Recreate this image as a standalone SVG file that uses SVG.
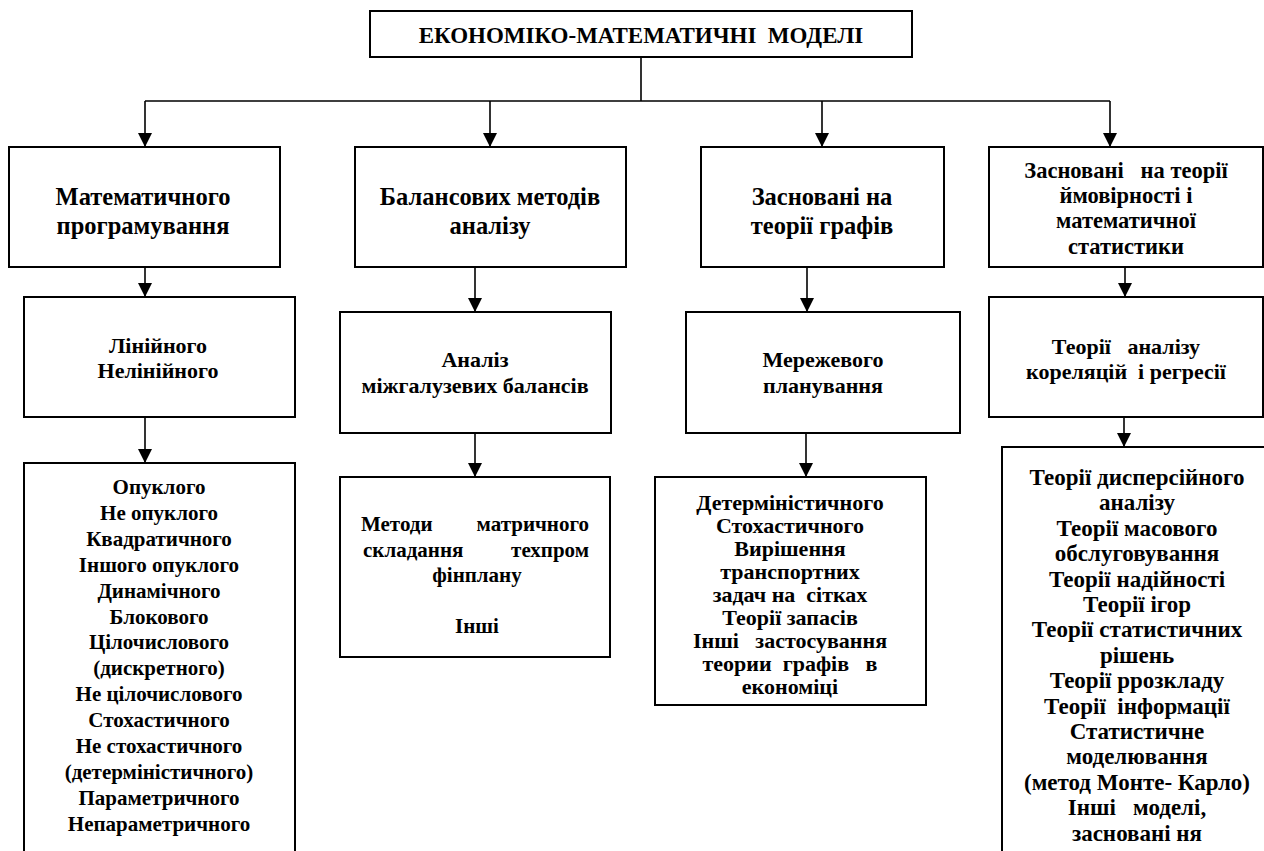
<svg xmlns="http://www.w3.org/2000/svg" width="1264" height="851" viewBox="0 0 1264 851" font-family="Liberation Serif, Tinos, 'Times New Roman', 'DejaVu Serif', serif" font-weight="bold">
<defs>
<marker id="arr" viewBox="0 0 14 14" refX="14" refY="7" markerWidth="14" markerHeight="14" orient="auto" markerUnits="userSpaceOnUse">
<path d="M0,0 L14,7 L0,14 z" fill="#000"/>
</marker>
<style>
.box{fill:#fff;stroke:#000;stroke-width:2}
.ln{fill:none;stroke:#000;stroke-width:1.6}
.ar{fill:none;stroke:#000;stroke-width:1.6;marker-end:url(#arr)}
text{fill:#000;text-anchor:middle;white-space:pre}
.t0{font-size:23px}
.t1{font-size:24.5px}
.t1s{font-size:22.5px}
.t2{font-size:22px}
.t3{font-size:21px}
.t3c{font-size:22px}
.t3d{font-size:23px}
</style>
</defs>
<rect width="1264" height="851" fill="#fff"/>
<g id="connectors">
<path class="ln" d="M641 57 V101 M145 101 H1110"/>
<path class="ar" d="M145 101 V147"/>
<path class="ar" d="M490 101 V147"/>
<path class="ar" d="M822 101 V147"/>
<path class="ar" d="M1110 101 V147"/>
<path class="ar" d="M145 267 V297"/>
<path class="ar" d="M475 267 V312"/>
<path class="ar" d="M807 267 V312"/>
<path class="ar" d="M1125 267 V297"/>
<path class="ar" d="M145 417 V463"/>
<path class="ar" d="M475 433 V477"/>
<path class="ar" d="M806 433 V477"/>
<path class="ar" d="M1124 417 V447"/>
</g>
<g id="root">
<rect class="box" x="370" y="11" width="542" height="46"/>
<text class="t0" x="641" y="43">ЕКОНОМІКО-МАТЕМАТИЧНІ  МОДЕЛІ</text>
</g>
<g id="math-prog">
<rect class="box" x="9" y="147" width="271" height="120"/>
<text class="t1" x="143" y="205">Математичного</text>
<text class="t1" x="143" y="234">програмування</text>
</g>
<g id="balance">
<rect class="box" x="355" y="147" width="271" height="120"/>
<text class="t1" x="490" y="205">Балансових методів</text>
<text class="t1" x="490" y="234">аналізу</text>
</g>
<g id="graphs">
<rect class="box" x="701" y="147" width="243" height="120"/>
<text class="t1" x="822" y="205">Засновані на</text>
<text class="t1" x="822" y="234">теорії графів</text>
</g>
<g id="probability">
<rect class="box" x="989" y="147" width="274" height="120"/>
<text class="t1s" x="1126" y="178">Засновані   на теорії</text>
<text class="t1s" x="1126" y="203">ймовірності і</text>
<text class="t1s" x="1126" y="228">математичної</text>
<text class="t1s" x="1126" y="254">статистики</text>
</g>
<g id="linear">
<rect class="box" x="24" y="297" width="271" height="120"/>
<text class="t2" x="158" y="353">Лінійного</text>
<text class="t2" x="158" y="378">Нелінійного</text>
</g>
<g id="interbranch">
<rect class="box" x="340" y="312" width="271" height="121"/>
<text class="t2" x="475" y="367">Аналіз</text>
<text class="t2" x="475" y="393">міжгалузевих балансів</text>
</g>
<g id="network">
<rect class="box" x="686" y="312" width="274" height="121"/>
<text class="t2" x="823" y="367">Мережевого</text>
<text class="t2" x="823" y="393">планування</text>
</g>
<g id="correlation">
<rect class="box" x="989" y="297" width="274" height="120"/>
<text class="t2" x="1126" y="354">Теорії   аналізу</text>
<text class="t2" x="1126" y="379">кореляцій  і регресії</text>
</g>
<g id="prog-types">
<rect class="box" x="24" y="463" width="271" height="400"/>
<text class="t3" x="159" y="494">Опуклого</text>
<text class="t3" x="159" y="519.9">Не опуклого</text>
<text class="t3" x="159" y="545.8">Квадратичного</text>
<text class="t3" x="159" y="571.7">Іншого опуклого</text>
<text class="t3" x="159" y="597.6">Динамічного</text>
<text class="t3" x="159" y="623.5">Блокового</text>
<text class="t3" x="159" y="649.4">Цілочислового</text>
<text class="t3" x="159" y="675.3">(дискретного)</text>
<text class="t3" x="159" y="701.2">Не цілочислового</text>
<text class="t3" x="159" y="727.1">Стохастичного</text>
<text class="t3" x="159" y="753">Не стохастичного</text>
<text class="t3" x="159" y="778.9">(детерміністичного)</text>
<text class="t3" x="159" y="804.8">Параметричного</text>
<text class="t3" x="159" y="830.7">Непараметричного</text>
</g>
<g id="matrix">
<rect class="box" x="340" y="477" width="270" height="180"/>
<text class="t3" x="361" y="531" style="text-anchor:start">Методи</text>
<text class="t3" x="589" y="531" style="text-anchor:end">матричного</text>
<text class="t3" x="363" y="557" style="text-anchor:start">складання</text>
<text class="t3" x="589" y="557" style="text-anchor:end">техпром</text>
<text class="t3" x="477" y="582">фінплану</text>
<text class="t3" x="477" y="633">Інші</text>
</g>
<g id="graph-types">
<rect class="box" x="655" y="477" width="271" height="228"/>
<text class="t3c" x="790" y="510">Детерміністичного</text>
<text class="t3c" x="790" y="533">Стохастичного</text>
<text class="t3c" x="790" y="556">Вирішення</text>
<text class="t3c" x="790" y="579">транспортних</text>
<text class="t3c" x="790" y="602">задач на  сітках</text>
<text class="t3c" x="790" y="625">Теорії запасів</text>
<text class="t3c" x="790" y="648">Інші   застосування</text>
<text class="t3c" x="790" y="671">теории  графів   в</text>
<text class="t3c" x="790" y="694">економіці</text>
</g>
<g id="stat-types">
<rect class="box" x="1002" y="447" width="274" height="420"/>
<text class="t3d" x="1137" y="485">Теорії дисперсійного</text>
<text class="t3d" x="1137" y="510.4">аналізу</text>
<text class="t3d" x="1137" y="535.8">Теорії масового</text>
<text class="t3d" x="1137" y="561.2">обслуговування</text>
<text class="t3d" x="1137" y="586.6">Теорії надійності</text>
<text class="t3d" x="1137" y="612">Теорії ігор</text>
<text class="t3d" x="1137" y="637.4">Теорії статистичних</text>
<text class="t3d" x="1137" y="662.8">рішень</text>
<text class="t3d" x="1137" y="688.2">Теорії ррозкладу</text>
<text class="t3d" x="1137" y="713.6">Теорії  інформації</text>
<text class="t3d" x="1137" y="739">Статистичне</text>
<text class="t3d" x="1137" y="764.4">моделювання</text>
<text class="t3d" x="1137" y="789.8">(метод Монте- Карло)</text>
<text class="t3d" x="1137" y="815.2">Інші   моделі,</text>
<text class="t3d" x="1137" y="840.6">засновані ня</text>
</g>
</svg>
